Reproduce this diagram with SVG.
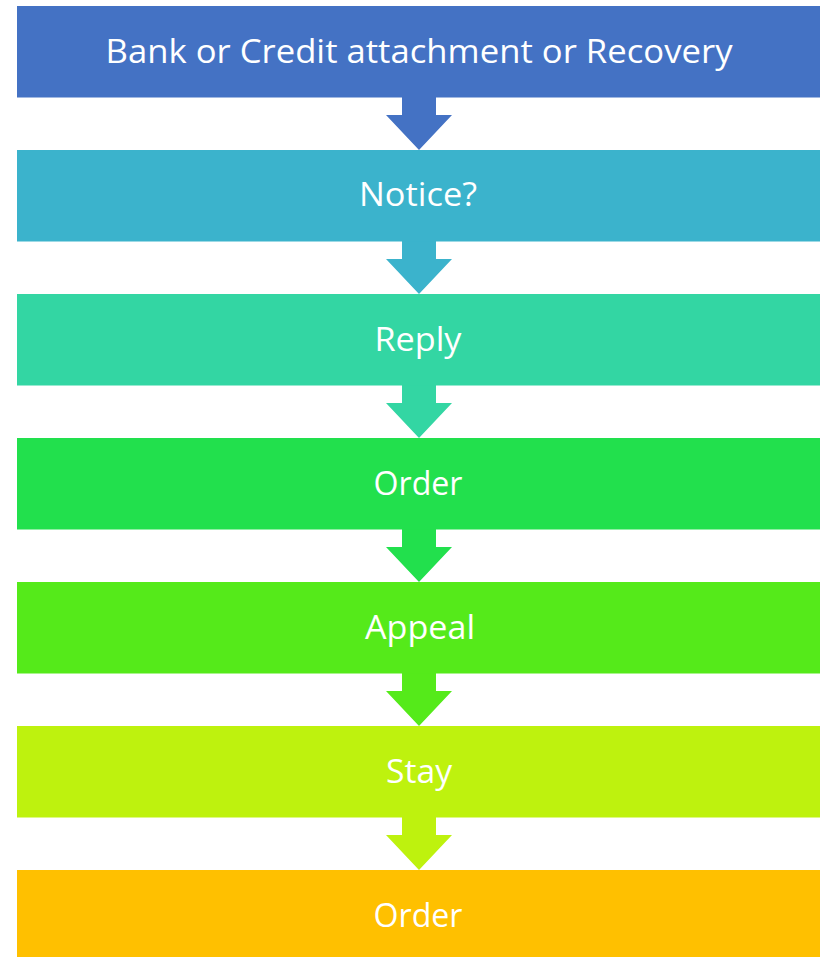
<svg xmlns="http://www.w3.org/2000/svg" width="826" height="957" viewBox="0 0 826 957">
<style>
.box{stroke:none}
.lbl{font-family:"Open Sans","Liberation Sans",sans-serif;font-size:32px;fill:#ffffff;text-anchor:middle}
</style>
<defs>
<path id="arr" d="M402,0 H436 V18 H452 L419,53 L386,18 H402 Z"/>
</defs>
<rect width="826" height="957" fill="#ffffff"/>
<g id="connectors">
<use href="#arr" y="97" fill="#4472C4"/>
<use href="#arr" y="241" fill="#3BB3CC"/>
<use href="#arr" y="385" fill="#33D6A3"/>
<use href="#arr" y="529" fill="#22E04D"/>
<use href="#arr" y="673" fill="#55EA1A"/>
<use href="#arr" y="817" fill="#BEF20E"/>
</g>
<g id="n1"><rect class="box" x="17" y="6" width="803" height="91.5" fill="#4472C4"/><text class="lbl" x="419" y="63" textLength="627" lengthAdjust="spacingAndGlyphs">Bank or Credit attachment or Recovery</text></g>
<g id="n2"><rect class="box" x="17" y="150" width="803" height="91.5" fill="#3BB3CC"/><text class="lbl" x="418" y="206" textLength="118" lengthAdjust="spacingAndGlyphs">Notice?</text></g>
<g id="n3"><rect class="box" x="17" y="294" width="803" height="91.5" fill="#33D6A3"/><text class="lbl" x="418" y="351" textLength="87" lengthAdjust="spacingAndGlyphs">Reply</text></g>
<g id="n4"><rect class="box" x="17" y="438" width="803" height="91.5" fill="#22E04D"/><text class="lbl" x="418" y="495" textLength="89" lengthAdjust="spacingAndGlyphs">Order</text></g>
<g id="n5"><rect class="box" x="17" y="582" width="803" height="91.5" fill="#55EA1A"/><text class="lbl" x="420" y="639" textLength="110" lengthAdjust="spacingAndGlyphs">Appeal</text></g>
<g id="n6"><rect class="box" x="17" y="726" width="803" height="91.5" fill="#BEF20E"/><text class="lbl" x="419" y="783" textLength="66" lengthAdjust="spacingAndGlyphs">Stay</text></g>
<g id="n7"><rect class="box" x="17" y="870" width="803" height="87" fill="#FFC000"/><text class="lbl" x="418" y="927" textLength="89" lengthAdjust="spacingAndGlyphs">Order</text></g>
</svg>
